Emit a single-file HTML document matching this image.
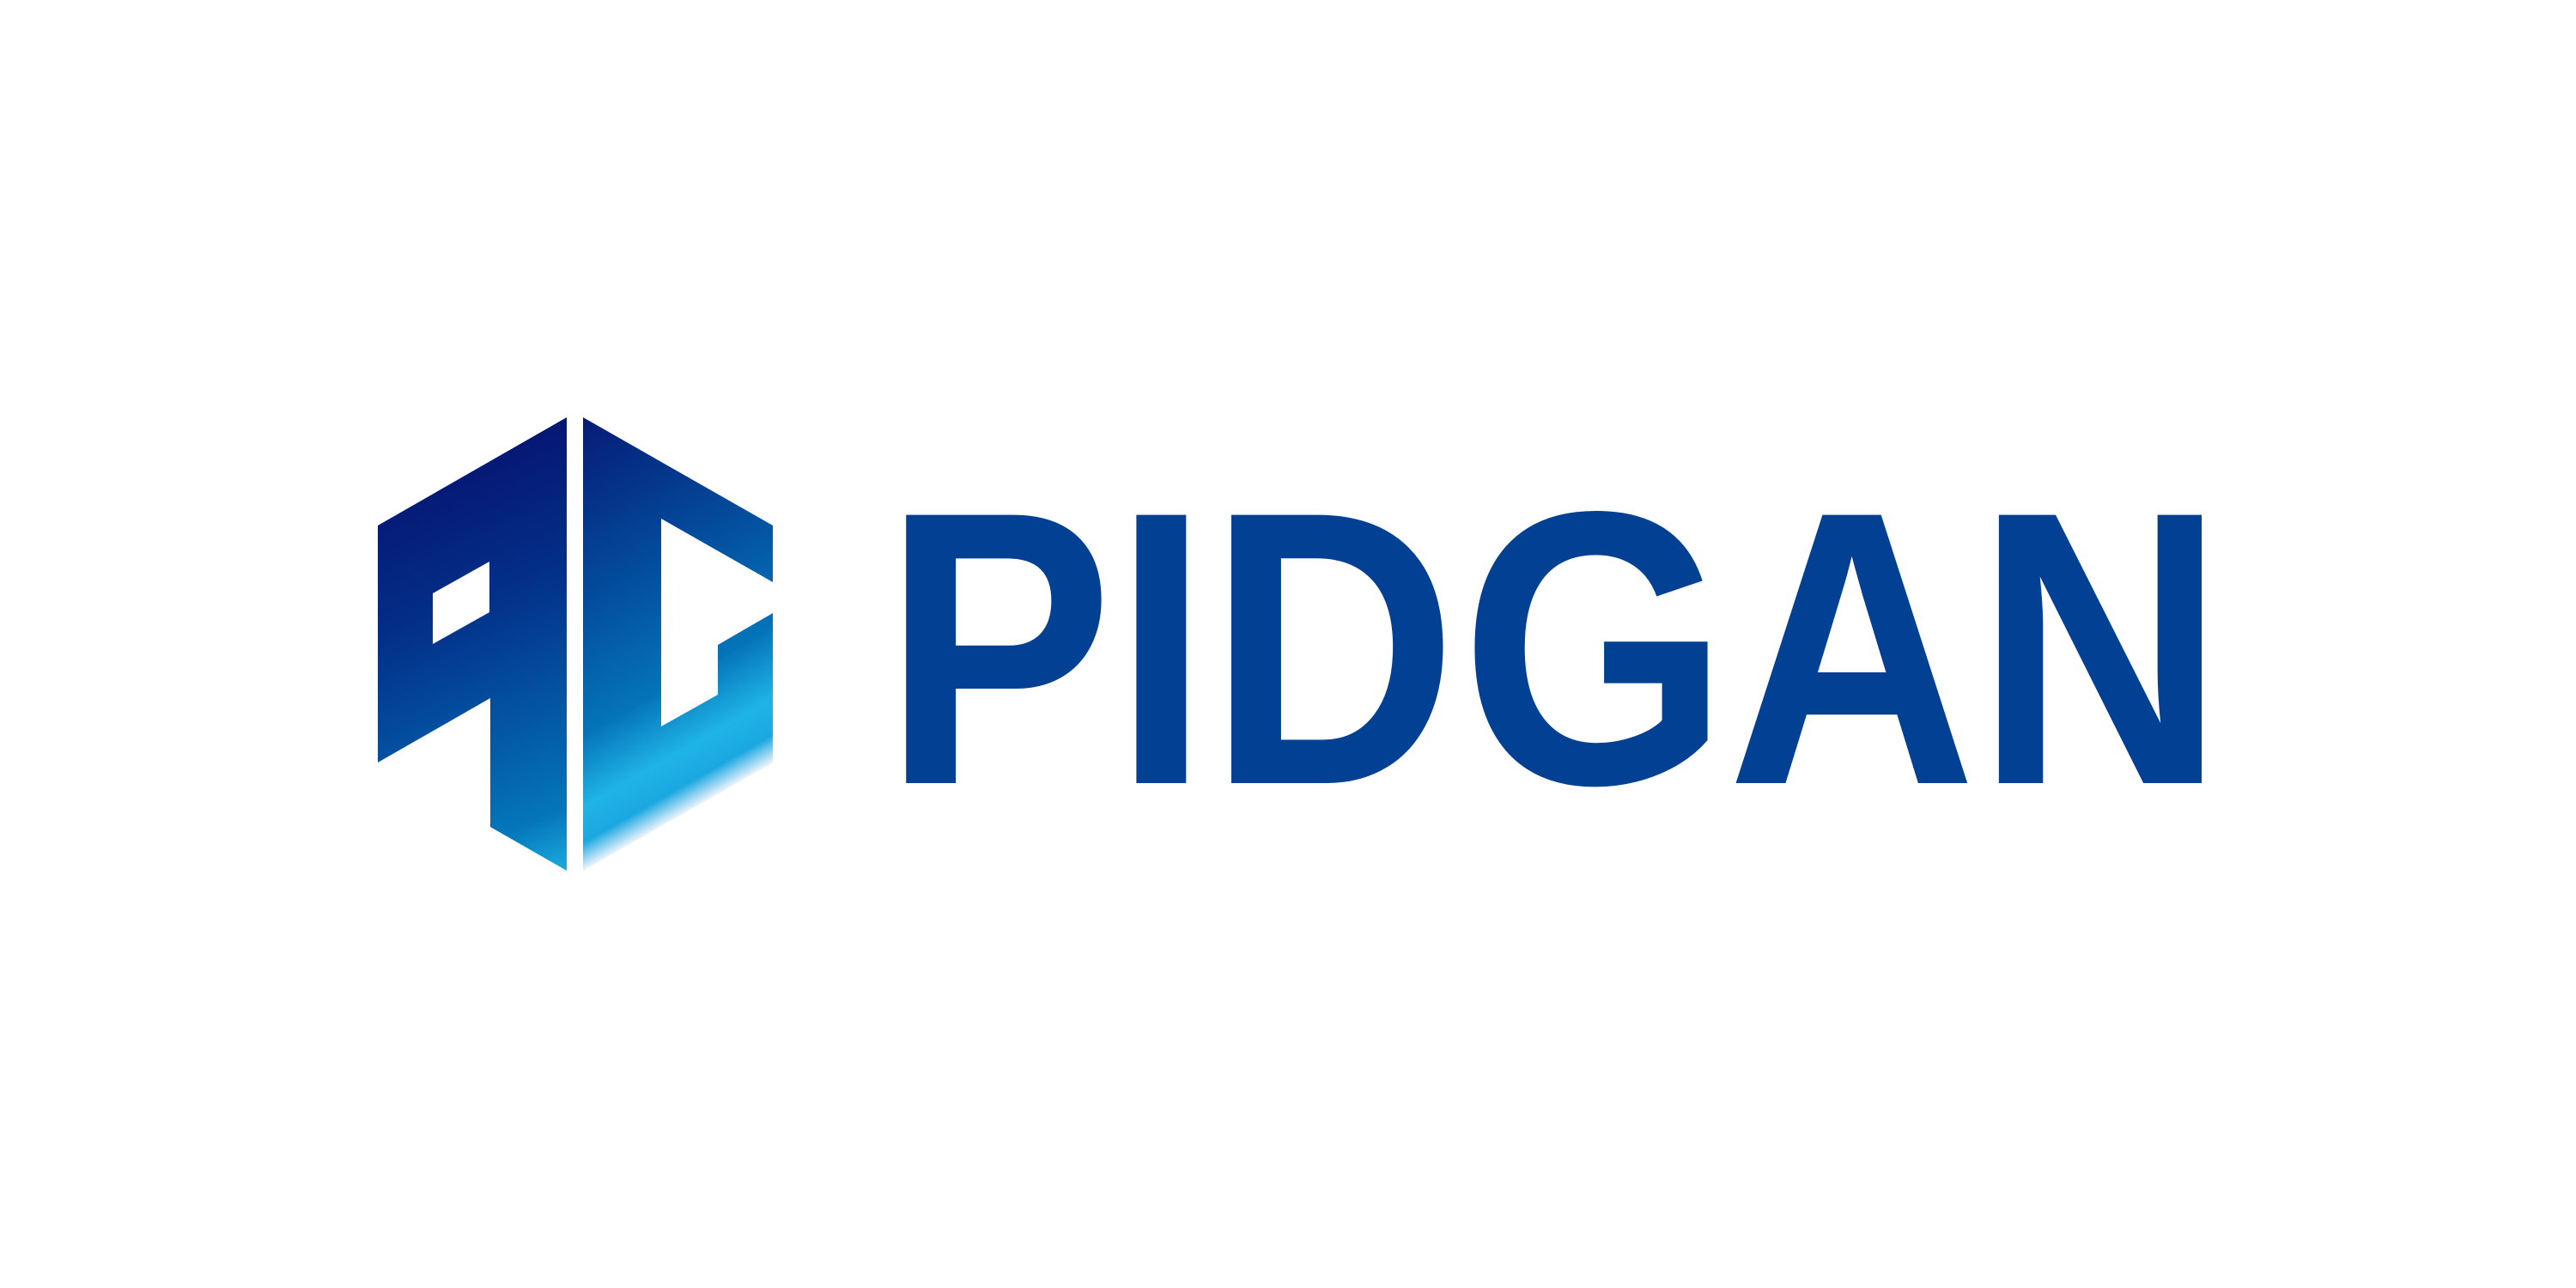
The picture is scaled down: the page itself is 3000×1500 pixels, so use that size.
<!DOCTYPE html>
<html>
<head>
<meta charset="utf-8">
<style>
  html,body{margin:0;padding:0;background:#fff;}
  svg{display:block;}
</style>
</head>
<body>
<svg width="3000" height="1500" viewBox="0 0 3000 1500" xmlns="http://www.w3.org/2000/svg">
  <defs>
    <linearGradient id="gl" gradientUnits="userSpaceOnUse" x1="500" y1="520" x2="700" y2="1010">
      <stop offset="0" stop-color="#061270"/>
      <stop offset="0.35" stop-color="#032f88"/>
      <stop offset="0.65" stop-color="#0358a6"/>
      <stop offset="0.85" stop-color="#0476ba"/>
      <stop offset="1" stop-color="#1fb4e6"/>
    </linearGradient>
    <linearGradient id="gr" gradientUnits="userSpaceOnUse" x1="560" y1="560" x2="784" y2="953">
      <stop offset="0" stop-color="#061c78"/>
      <stop offset="0.4" stop-color="#034c9c"/>
      <stop offset="0.7" stop-color="#0474b9"/>
      <stop offset="0.86" stop-color="#1fb4e6"/>
      <stop offset="0.94" stop-color="#1aa8e0"/>
      <stop offset="1" stop-color="#e6f0fb"/>
    </linearGradient>
  </defs>
  <rect x="0" y="0" width="3000" height="1500" fill="#ffffff"/>
  <g>
    <path fill="url(#gl)" fill-rule="evenodd"
      d="M440 612 L660 486 L660 1014 L571 963 L571 813 L440 888 Z M504 691 L570 654 L570 713 L504 750 Z"/>
    <path fill="url(#gr)"
      d="M679 486 L900 612 L900 678 L770 604 L770 846 L836 809 L836 751 L900 714 L900 888 L679 1014 Z"/>
  </g>
  <g transform="translate(0,912) scale(0.885,1)" fill="#014093" font-family="'Liberation Sans', Arial, sans-serif" font-weight="bold" font-size="454">
    <text x="1162" y="0">P</text>
    <text x="1465" y="0">I</text>
    <text x="1590" y="0">D</text>
    <text x="1922" y="0">G</text>
    <text x="2273" y="0">A</text>
    <text x="2600" y="0">N</text>
  </g>
</svg>
</body>
</html>
